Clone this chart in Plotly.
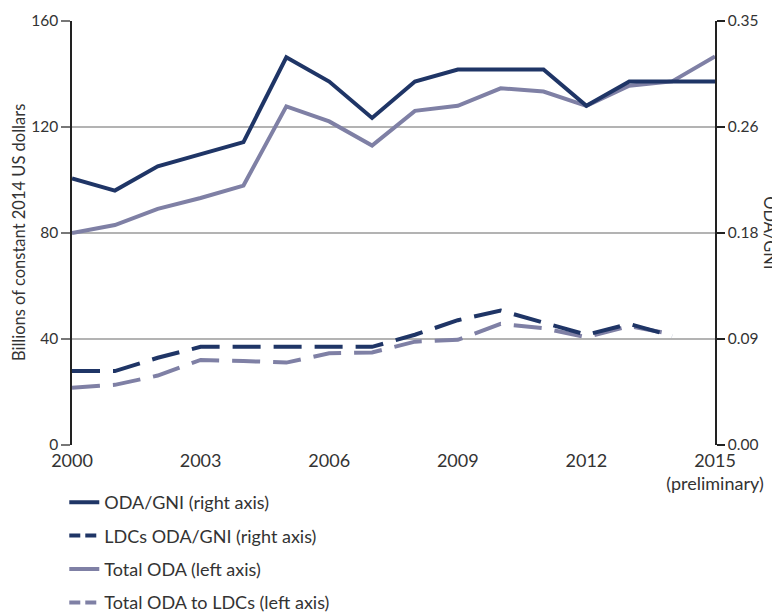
import plotly.graph_objects as go

# Years on the x axis
years = list(range(2000, 2016))
years_ldc = list(range(2000, 2015))

# Right axis (ODA/GNI ratio)
oda_gni = [0.22, 0.21, 0.23, 0.24, 0.25, 0.32, 0.30, 0.27, 0.30, 0.31, 0.31, 0.31, 0.28, 0.30, 0.30, 0.30]
ldc_oda_gni = [0.061, 0.061, 0.072, 0.081, 0.081, 0.081, 0.081, 0.081, 0.091, 0.103, 0.111, 0.101, 0.091, 0.100, 0.090]

# Left axis (billions of constant 2014 US dollars)
total_oda = [80.0, 83.0, 89.1, 93.2, 97.9, 127.8, 122.1, 113.0, 126.1, 128.0, 134.6, 133.4, 128.0, 135.6, 137.2, 146.6]
total_oda_ldc = [21.6, 22.7, 26.2, 32.1, 31.7, 31.1, 34.6, 34.9, 39.0, 39.7, 45.7, 44.1, 40.7, 44.9, 41.8]

# Tick labels
x_ticks = [2000, 2003, 2006, 2009, 2012, 2015]
x_labels = ["2000", "2003", "2006", "2009", "2012", "2015<br>(preliminary)"]
y_ticks = [0, 40, 80, 120, 160]
y2_ticks = [0, 0.0875, 0.175, 0.2625, 0.35]
y2_labels = ["0.00", "0.09", "0.18", "0.26", "0.35"]

navy = "#1f3566"
grey = "#7f80a5"
dash = "28px,13px"
font = "Lato"
txt = "#333333"

fig = go.Figure()

# data lines (legend is drawn with the dummy entries below)
fig.add_trace(go.Scatter(x=years, y=total_oda, mode="lines", showlegend=False,
                         line=dict(color=grey, width=4)))
fig.add_trace(go.Scatter(x=years_ldc, y=total_oda_ldc, mode="lines", showlegend=False,
                         line=dict(color=grey, width=4, dash=dash)))
fig.add_trace(go.Scatter(x=years, y=oda_gni, yaxis="y2", mode="lines", showlegend=False,
                         line=dict(color=navy, width=4)))
fig.add_trace(go.Scatter(x=years_ldc, y=ldc_oda_gni, yaxis="y2", mode="lines", showlegend=False,
                         line=dict(color=navy, width=4, dash=dash)))

# legend entries with a shorter dash so the swatch shows two dashes
legend_items = [
    ("ODA/GNI (right axis)", navy, "solid"),
    ("LDCs ODA/GNI (right axis)", navy, "11px,5px"),
    ("Total ODA (left axis)", grey, "solid"),
    ("Total ODA to LDCs (left axis)", grey, "11px,5px"),
]
for i, (name, col, d) in enumerate(legend_items):
    fig.add_trace(go.Scatter(x=[None], y=[None], mode="lines", name=name,
                             legendgroup=str(i), line=dict(color=col, width=4, dash=d)))

# page body has an 8px margin, so the figure is 8px smaller than the window
fig.update_layout(
    width=772, height=606,
    margin=dict(l=64, r=65, t=13, b=169, autoexpand=False),
    plot_bgcolor="white", paper_bgcolor="white",
    font=dict(family=font, size=15, color=txt),
    xaxis=dict(range=[2000, 2015], tickvals=x_ticks, ticktext=x_labels,
               showgrid=False, zeroline=False, showline=False, ticks="",
               tickfont=dict(size=18), ticklabelstandoff=3, automargin=False),
    yaxis=dict(range=[0, 160], tickvals=y_ticks,
               showgrid=True, gridcolor="#b3b3b3", gridwidth=1.5, zeroline=False,
               showline=True, linecolor="#222222", linewidth=1.5,
               ticks="outside", ticklen=9, tickcolor="#777777", tickwidth=1.5,
               tickfont=dict(size=15.5), automargin=False),
    yaxis2=dict(range=[0, 0.35], tickvals=y2_ticks, ticktext=y2_labels,
                overlaying="y", side="right", showgrid=False, zeroline=False,
                showline=True, linecolor="#222222", linewidth=1.5,
                ticks="outside", ticklen=8, tickcolor="#222222", tickwidth=1.5,
                tickfont=dict(size=15.5), automargin=False),
    legend=dict(x=-0.012, y=-0.092, xanchor="left", yanchor="top",
                orientation="v", traceorder="grouped", tracegroupgap=7,
                font=dict(size=18), bgcolor="rgba(0,0,0,0)"),
    annotations=[
        dict(text="Billions of constant 2014 US dollars", xref="paper", yref="paper",
             x=-0.0824, y=0.5, xanchor="center", yanchor="middle",
             textangle=-90, showarrow=False, font=dict(size=16.5)),
        dict(text="ODA/GNI", xref="paper", yref="paper",
             x=1.085, y=0.5, xanchor="center", yanchor="middle",
             textangle=90, showarrow=False, font=dict(size=16.5)),
    ],
)

fig.write_html("out.html")
